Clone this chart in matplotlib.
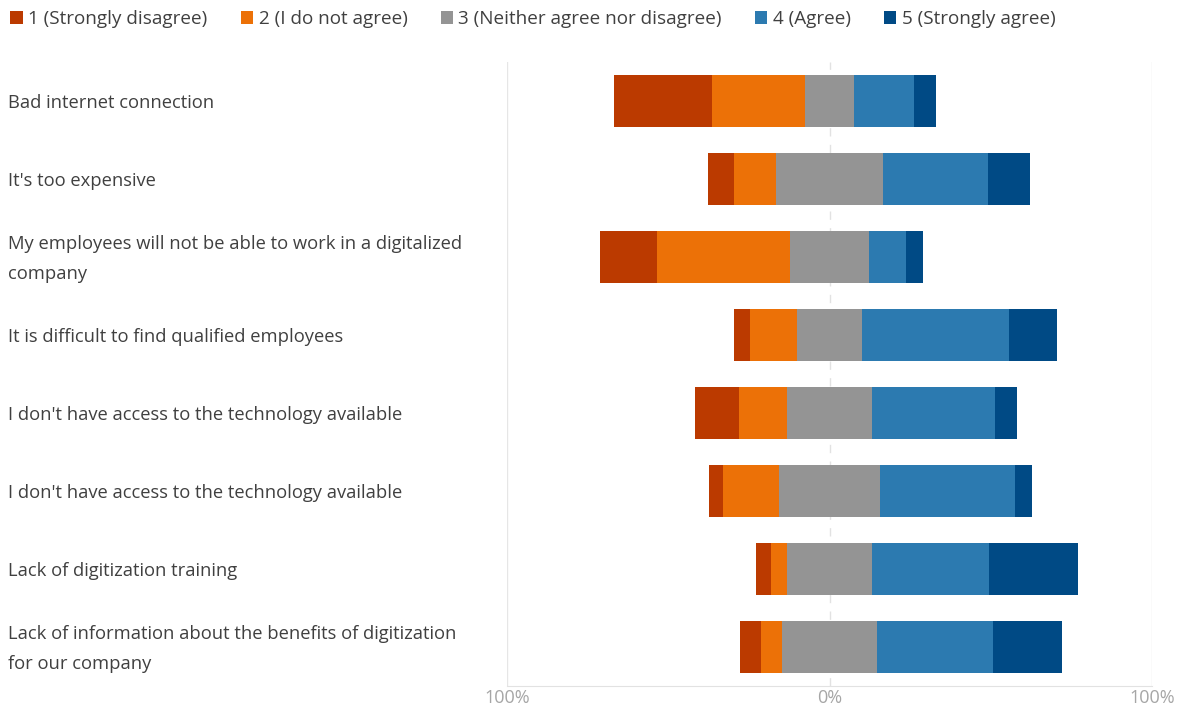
import numpy as np
import matplotlib
matplotlib.use('Agg')
import matplotlib.pyplot as plt
import matplotlib.transforms as mtransforms

plt.rcParams['font.family'] = ['Open Sans', 'DejaVu Sans']

# categories (top to bottom)
labels = ['Bad internet connection',
          "It's too expensive",
          'My employees will not be able to work in a digitalized\ncompany',
          'It is difficult to find qualified employees',
          "I don't have access to the technology available",
          "I don't have access to the technology available",
          'Lack of digitization training',
          'Lack of information about the benefits of digitization\nfor our company']

legend_names = ['1 (Strongly disagree)', '2 (I do not agree)',
                '3 (Neither agree nor disagree)', '4 (Agree)', '5 (Strongly agree)']

# percentages per answer
strongly_disagree = [30.6, 8.2, 17.6, 4.9, 13.6, 4.4, 4.6, 6.7]
disagree = [28.8, 13.1, 41.4, 14.7, 15.1, 17.3, 5.1, 6.5]
neutral = [15.0, 33.0, 24.3, 20.0, 26.2, 31.2, 26.3, 29.3]
agree = [18.6, 32.8, 11.7, 45.8, 38.1, 42.0, 36.3, 36.2]
strongly_agree = [7.0, 12.9, 5.0, 14.6, 7.0, 5.1, 27.7, 21.3]

colors = ['#BB3A00', '#EC7107', '#949494', '#2C7AB0', '#004A85']

fig = plt.figure(figsize=(11.78, 7.06), dpi=100)
ax = fig.add_axes([507/1178, 1-686/706, (1152-507)/1178, (686-62)/706])

data = np.array([strongly_disagree, disagree, neutral, agree, strongly_agree])
y = np.arange(len(labels))
# neutral split around zero
left = -(data[0] + data[1] + data[2] / 2)
bars = []
for i in range(5):
    b = ax.barh(y, data[i], left=left, height=0.665, color=colors[i],
                linewidth=0, label=legend_names[i], zorder=3)
    bars.append(b)
    left = left + data[i]

ax.set_xlim(-100, 100)
ax.set_ylim(len(labels) - 0.5, -0.5)

ax.axvline(-100, color='#E6E6E6', lw=1, zorder=1)
ax.axvline(100, color='#E6E6E6', lw=1, zorder=1)
ax.axvline(0, color='#E2E2E2', lw=1, ls=(0, (6, 6)), zorder=1)

for s in ['top', 'left', 'right']:
    ax.spines[s].set_visible(False)
ax.spines['bottom'].set_color('#E2E2E2')

ax.set_yticks([])
ax.set_xticks([-100, 0, 100])
ax.set_xticklabels(['100%', '0%', '100%'])
ax.tick_params(axis='x', length=0, pad=2, labelsize=13, labelcolor='#A6A6A6')

trans = mtransforms.blended_transform_factory(fig.transFigure, ax.transData)
for yi, lab in zip(y, labels):
    ax.text(8/1178, yi + 0.025, lab, transform=trans, ha='left', va='center',
            fontsize=13.2, color='#404040', linespacing=1.85)

fig.legend(handles=bars, loc='upper left', bbox_to_anchor=(0.0, 1.0), ncol=5,
           frameon=False, fontsize=13.6, labelcolor='#404040',
           handlelength=0.65, handleheight=0.65, handletextpad=0.3,
           columnspacing=1.75, borderaxespad=0.25, borderpad=0.3)

fig.savefig('out.png', dpi=100)
